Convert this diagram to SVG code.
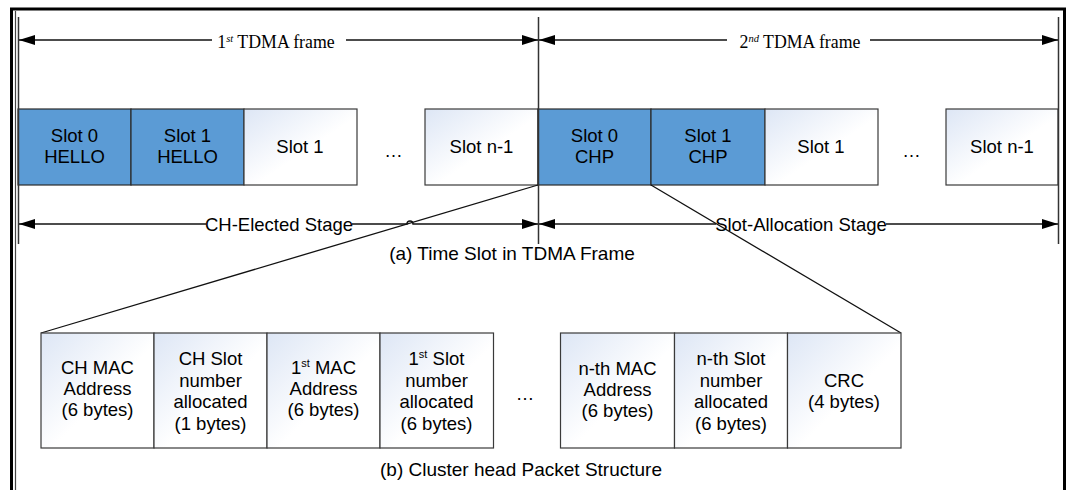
<svg xmlns="http://www.w3.org/2000/svg" width="1068" height="490" viewBox="0 0 1068 490">
<style>
.sans{font-family:"Liberation Sans",Arial,sans-serif;font-size:18.5px;fill:#000;text-anchor:middle}
.cap{font-size:19px}
.serif{font-family:"Liberation Serif","Times New Roman",serif;font-size:17.8px;fill:#000;text-anchor:middle}
.sup{font-size:10.5px;font-style:italic}
.ssup{font-size:11px}
.blue{fill:#5b9bd5;stroke:#2b2b2b;stroke-width:1.2}
.white{fill:url(#cellg);stroke:#3a3a3a;stroke-width:1.2}
.ln{fill:none;stroke:#111;stroke-width:1.3}
.arr{fill:none;stroke:#111;stroke-width:1.4;marker-end:url(#ah)}
.tick{stroke:#333;stroke-width:1.5}
</style>
<defs>
<linearGradient id="cellg" x1="0" y1="0" x2="1" y2="1">
<stop offset="0" stop-color="#dde6f5"/>
<stop offset="0.55" stop-color="#ffffff"/>
<stop offset="1" stop-color="#ffffff"/>
</linearGradient>
<marker id="ah" markerUnits="userSpaceOnUse" markerWidth="16" markerHeight="11" refX="16" refY="5.5" orient="auto">
<path d="M0,0.5 L16,5.5 L0,10.5 z" fill="#000"/>
</marker>
</defs>
<rect x="0" y="0" width="1068" height="490" fill="#fff"/>
<g id="frame">
<rect x="11.5" y="9" width="1053" height="495" fill="none" stroke="#000" stroke-width="3"/>
<line x1="15.5" y1="11" x2="15.5" y2="490" stroke="#444" stroke-width="1.2"/>
</g>
<g id="slot-hello-0"><rect class="blue" x="18" y="109" width="113" height="76"/><text class="sans" x="74.5" y="141.5">Slot 0</text><text class="sans" x="74.5" y="162.5">HELLO</text></g>
<g id="slot-hello-1"><rect class="blue" x="131" y="109" width="113" height="76"/><text class="sans" x="187.5" y="141.5">Slot 1</text><text class="sans" x="187.5" y="162.5">HELLO</text></g>
<g id="slot-a-1"><rect class="white" x="244" y="109" width="113" height="76"/><text class="sans" x="300" y="153">Slot 1</text></g>
<g id="dots-a1"><text class="sans" x="393.5" y="157">…</text></g>
<g id="slot-a-n1"><rect class="white" x="425" y="109" width="113" height="76"/><text class="sans" x="481.5" y="153">Slot n-1</text></g>
<g id="slot-chp-0"><rect class="blue" x="538" y="109" width="113" height="76"/><text class="sans" x="594.5" y="141.5">Slot 0</text><text class="sans" x="594.5" y="162.5">CHP</text></g>
<g id="slot-chp-1"><rect class="blue" x="651" y="109" width="114" height="76"/><text class="sans" x="708" y="141.5">Slot 1</text><text class="sans" x="708" y="162.5">CHP</text></g>
<g id="slot-b-1"><rect class="white" x="765" y="109" width="113" height="76"/><text class="sans" x="821" y="153">Slot 1</text></g>
<g id="dots-a2"><text class="sans" x="911.5" y="157">…</text></g>
<g id="slot-b-n1"><rect class="white" x="946" y="109" width="112" height="76"/><text class="sans" x="1002" y="153">Slot n-1</text></g>
<g id="ticks">
<line class="tick" x1="18.5" y1="17" x2="18.5" y2="244"/>
<line class="tick" x1="538.5" y1="17" x2="538.5" y2="244"/>
<line class="tick" x1="1058.5" y1="17" x2="1058.5" y2="244"/>
</g>
<g id="label-frame1"><text class="serif" x="276" y="48">1<tspan class="sup" dy="-6">st</tspan><tspan dy="6"> TDMA frame</tspan></text></g>
<g id="label-frame2"><text class="serif" x="800" y="48">2<tspan class="sup" dy="-6">nd</tspan><tspan dy="6"> TDMA frame</tspan></text></g>
<g id="label-ch-elected"><text class="sans" x="279" y="230.5">CH-Elected Stage</text></g>
<g id="label-slot-alloc"><text class="sans" x="801" y="230.5">Slot-Allocation Stage</text></g>
<g id="caption-a"><text class="sans cap" x="512" y="260">(a) Time Slot in TDMA Frame</text></g>
<g id="connectors">
<line class="arr" x1="212" y1="40" x2="19" y2="40"/>
<line class="arr" x1="346" y1="40" x2="538" y2="40"/>
<line class="arr" x1="727" y1="40" x2="539" y2="40"/>
<line class="arr" x1="870" y1="40" x2="1058" y2="40"/>
<line class="arr" x1="206" y1="224" x2="19" y2="224"/>
<path class="arr" d="M352,224 H407 A3,3 0 0 1 413,224 H538"/>
<line class="arr" x1="716" y1="224" x2="539" y2="224"/>
<line class="arr" x1="886" y1="224" x2="1058" y2="224"/>
<line class="ln" x1="538" y1="185" x2="41" y2="333"/>
<line class="ln" x1="651" y1="185" x2="901" y2="333"/>
</g>
<g id="pkt-ch-mac"><rect class="white" x="41" y="333" width="113" height="115"/><text class="sans" x="97.5" y="374">CH MAC</text><text class="sans" x="97.5" y="395">Address</text><text class="sans" x="97.5" y="416">(6 bytes)</text></g>
<g id="pkt-ch-slot"><rect class="white" x="154" y="333" width="113" height="115"/><text class="sans" x="210.5" y="365">CH Slot</text><text class="sans" x="210.5" y="386.5">number</text><text class="sans" x="210.5" y="408">allocated</text><text class="sans" x="210.5" y="429.5">(1 bytes)</text></g>
<g id="pkt-1st-mac"><rect class="white" x="267" y="333" width="113" height="115"/><text class="sans" x="323.5" y="374">1<tspan class="ssup" dy="-7">st</tspan><tspan dy="7"> MAC</tspan></text><text class="sans" x="323.5" y="395">Address</text><text class="sans" x="323.5" y="416">(6 bytes)</text></g>
<g id="pkt-1st-slot"><rect class="white" x="380" y="333" width="113.5" height="115"/><text class="sans" x="436.5" y="365">1<tspan class="ssup" dy="-7">st</tspan><tspan dy="7"> Slot</tspan></text><text class="sans" x="436.5" y="386.5">number</text><text class="sans" x="436.5" y="408">allocated</text><text class="sans" x="436.5" y="429.5">(6 bytes)</text></g>
<g id="dots-b"><text class="sans" x="525" y="400">…</text></g>
<g id="pkt-nth-mac"><rect class="white" x="560.5" y="333" width="114" height="115"/><text class="sans" x="617.5" y="375">n-th MAC</text><text class="sans" x="617.5" y="396">Address</text><text class="sans" x="617.5" y="417">(6 bytes)</text></g>
<g id="pkt-nth-slot"><rect class="white" x="674.5" y="333" width="113" height="115"/><text class="sans" x="731" y="365">n-th Slot</text><text class="sans" x="731" y="386.5">number</text><text class="sans" x="731" y="408">allocated</text><text class="sans" x="731" y="429.5">(6 bytes)</text></g>
<g id="pkt-crc"><rect class="white" x="787.5" y="333" width="113.5" height="115"/><text class="sans" x="844" y="387">CRC</text><text class="sans" x="844" y="408">(4 bytes)</text></g>
<g id="caption-b"><text class="sans cap" x="521" y="476">(b) Cluster head Packet Structure</text></g>
</svg>
